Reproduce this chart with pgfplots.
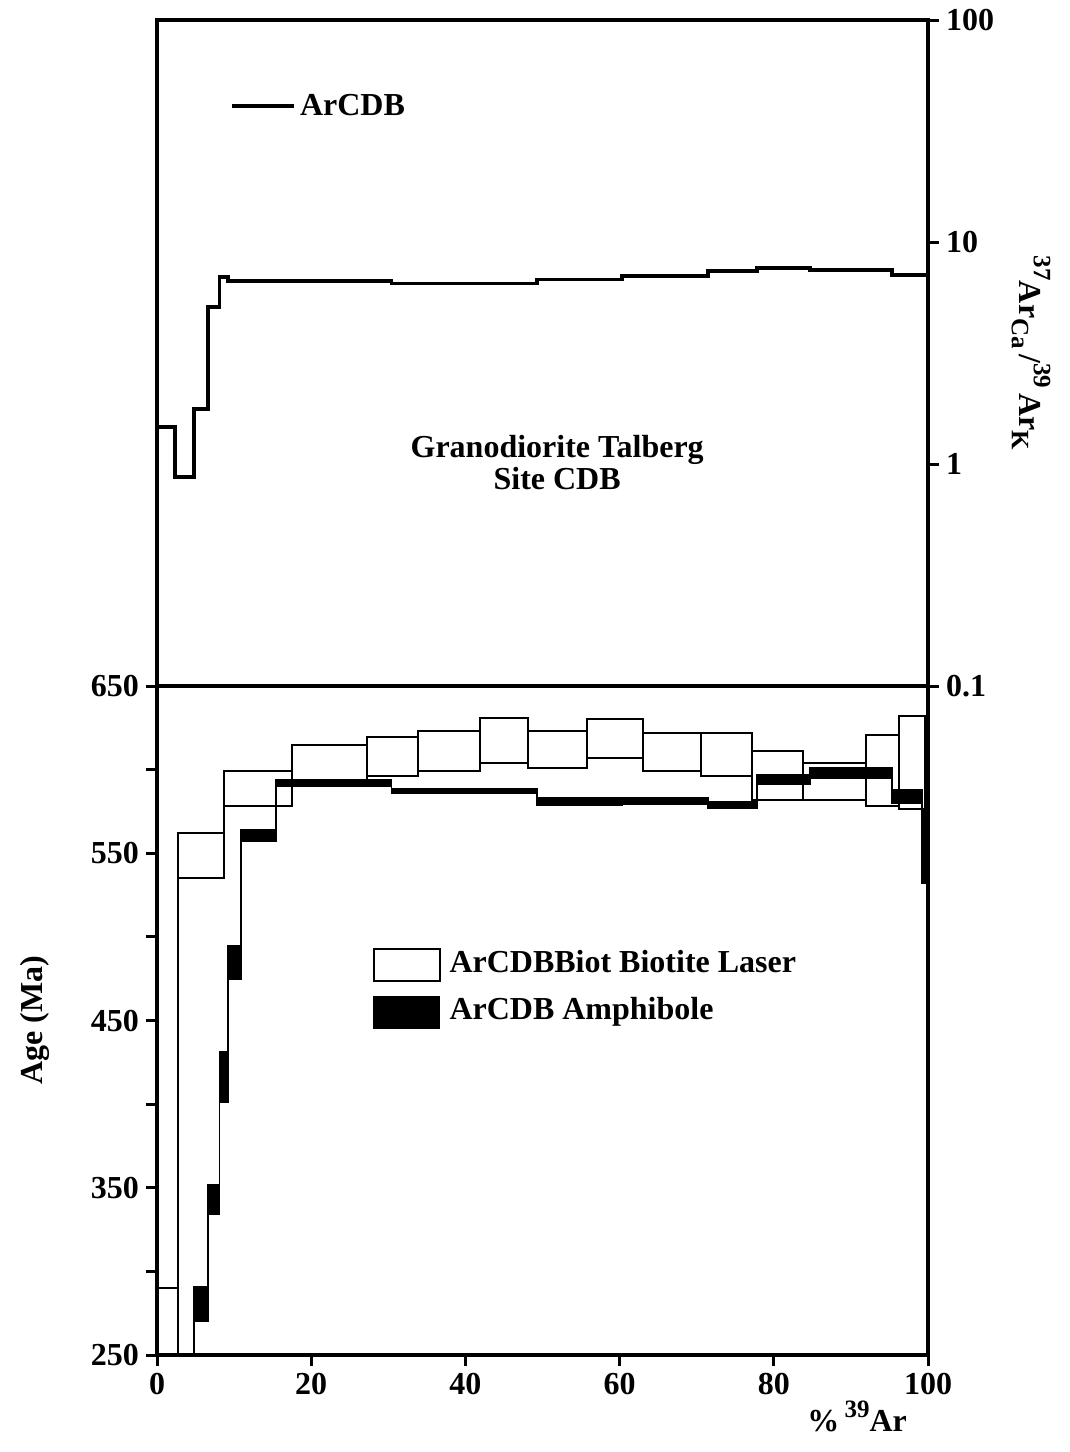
\documentclass[border=0pt]{standalone}
\usepackage{pgfplots}
\pgfplotsset{compat=1.18}
\usepackage{fontspec}
\setmainfont{Liberation Serif}
\newcommand{\bigf}{\bfseries\fontsize{16}{16}\selectfont}
\newcommand{\sups}[1]{\raisebox{7pt}{\fontsize{12.5}{12.5}\selectfont #1}}
\newcommand{\subs}[1]{\raisebox{-4pt}{\fontsize{12.5}{12.5}\selectfont #1}}
\begin{document}
\begin{tikzpicture}
\path[use as bounding box] (0,0) rectangle (535pt,-726pt);
\pgfplotsset{
  every axis/.append style={
    scale only axis, width=385.5pt,
    xmin=0, xmax=100,
    axis line style={line width=1.6pt},
    tick style={line width=1.5pt, black},
    major tick length=5.5pt, minor tick length=5.5pt,
    tick align=outside,
    tick label style={font=\bigf},
    label style={font=\bigf},
    /pgf/number format/assume math mode=true,
  }
}
% ---------------- bottom: age spectra ----------------
\begin{axis}[at={(78.5pt,-677.5pt)}, anchor=south west, height=334.5pt,
  ymin=250, ymax=650,
  xtick={0,20,40,60,80,100}, xtick pos=lower,
  ytick={250,350,450,550,650}, minor ytick={300,400,500,600}, ytick pos=left,
  unbounded coords=jump,
  xlabel={\%\,\sups{39}Ar},
  xlabel style={at={(axis description cs:0.908,-0.115)}, anchor=base},
  ylabel={Age (Ma)},
  ylabel style={at={(axis description cs:-0.149,0.5)}, anchor=base},
  legend style={at={(0.279,0.6185)}, anchor=north west, draw=none, fill=none,
    font=\bigf, inner sep=0pt,
    nodes={inner sep=4.5pt, text height=11pt, text depth=3.5pt}, row sep=0pt},
  legend cell align=left,
]
% Biotite laser boxes (open)
\addplot[black, line width=1pt,
  legend image code/.code={\draw[line width=1pt, black] (0pt,-8pt) rectangle (33pt,8pt);}]
coordinates {
(0,200) (0,290) (2.7,290) (2.7,200) (0,200) (0,nan)
(2.7,535) (2.7,562) (8.7,562) (8.7,535) (2.7,535) (2.7,nan)
(8.7,578) (8.7,599) (17.5,599) (17.5,578) (8.7,578) (8.7,nan)
(17.5,594) (17.5,615) (27.3,615) (27.3,594) (17.5,594) (17.5,nan)
(27.3,596) (27.3,619.5) (33.9,619.5) (33.9,596) (27.3,596) (27.3,nan)
(33.9,599) (33.9,623) (41.9,623) (41.9,599) (33.9,599) (33.9,nan)
(41.9,604) (41.9,631) (48.1,631) (48.1,604) (41.9,604) (41.9,nan)
(48.1,601) (48.1,623) (55.8,623) (55.8,601) (48.1,601) (48.1,nan)
(55.8,607) (55.8,630) (63.0,630) (63.0,607) (55.8,607) (55.8,nan)
(63.0,599) (63.0,622) (70.5,622) (70.5,599) (63.0,599) (63.0,nan)
(70.5,596) (70.5,622) (77.2,622) (77.2,596) (70.5,596) (70.5,nan)
(77.2,582) (77.2,611) (83.8,611) (83.8,582) (77.2,582) (77.2,nan)
(83.8,582) (83.8,604) (92.0,604) (92.0,582) (83.8,582) (83.8,nan)
(92.0,578) (92.0,621) (96.2,621) (96.2,578) (92.0,578) (92.0,nan)
(96.2,576.5) (96.2,632) (99.6,632) (99.6,576.5) (96.2,576.5)
};
\addlegendentry{ArCDBBiot Biotite Laser}
% Amphibole boxes (filled)
\addplot[black, fill=black, line width=0.6pt,
  legend image code/.code={\fill[black] (0pt,-8pt) rectangle (33pt,8pt);}]
coordinates {
(0,190) (0,200) (4.8,200) (4.8,190) (0,190) (0,nan)
(4.8,270) (4.8,290.8) (6.6,290.8) (6.6,270) (4.8,270) (4.8,nan)
(6.6,334) (6.6,352) (8.1,352) (8.1,334) (6.6,334) (6.6,nan)
(8.1,401) (8.1,431) (9.2,431) (9.2,401) (8.1,401) (8.1,nan)
(9.2,475) (9.2,494.5) (10.9,494.5) (10.9,475) (9.2,475) (9.2,nan)
(10.9,557) (10.9,564) (15.4,564) (15.4,557) (10.9,557) (10.9,nan)
(15.4,590) (15.4,594) (30.4,594) (30.4,590) (15.4,590) (15.4,nan)
(30.4,586) (30.4,588.5) (49.3,588.5) (49.3,586) (30.4,586) (30.4,nan)
(49.3,579) (49.3,583) (60.3,583) (60.3,579) (49.3,579) (49.3,nan)
(60.3,579.5) (60.3,583) (71.5,583) (71.5,579.5) (60.3,579.5) (60.3,nan)
(71.5,577) (71.5,581) (77.8,581) (77.8,577) (71.5,577) (71.5,nan)
(77.8,591) (77.8,597) (84.7,597) (84.7,591) (77.8,591) (77.8,nan)
(84.7,595) (84.7,601) (95.3,601) (95.3,595) (84.7,595) (84.7,nan)
(95.3,580) (95.3,588) (99.2,588) (99.2,580) (95.3,580) (95.3,nan)
(99.2,532) (99.2,576) (100,576) (100,532) (99.2,532)
};
\addlegendentry{ArCDB Amphibole}
% connecting steps, biotite
\addplot[black, line width=1pt, const plot mark left, forget plot] coordinates {
(0,290) (2.7,562) (8.7,599) (17.5,615) (27.3,619.5) (33.9,623) (41.9,631) (48.1,623)
(55.8,630) (63.0,622) (70.5,622) (77.2,611) (83.8,604) (92.0,621) (96.2,632) (99.6,632)};
\addplot[black, line width=1pt, const plot mark left, forget plot] coordinates {
(0,200) (2.7,535) (8.7,578) (17.5,594) (27.3,596) (33.9,599) (41.9,604) (48.1,601)
(55.8,607) (63.0,599) (70.5,596) (77.2,582) (83.8,582) (92.0,578) (96.2,576.5) (99.6,576.5)};
% connecting steps, amphibole
\addplot[black, line width=0.8pt, const plot mark left, forget plot] coordinates {
(0,200) (4.8,290.8) (6.6,352) (8.1,431) (9.2,494.5) (10.9,564) (15.4,594) (30.4,588.5)
(49.3,583) (60.3,583) (71.5,581) (77.8,597) (84.7,601) (95.3,588) (99.2,576) (100,576)};
\addplot[black, line width=0.8pt, const plot mark left, forget plot] coordinates {
(0,190) (4.8,270) (6.6,334) (8.1,401) (9.2,475) (10.9,557) (15.4,590) (30.4,586)
(49.3,579) (60.3,579.5) (71.5,577) (77.8,591) (84.7,595) (95.3,580) (99.2,532) (100,532)};
\end{axis}
% ---------------- top: Ca/K ----------------
\begin{axis}[at={(78.5pt,-343pt)}, anchor=south west, height=333pt,
  ymode=log, ymin=0.1, ymax=100,
  xtick=\empty,
  ytick={0.1,1,10,100},
  yticklabels={\textbf{0.1},\textbf{1},\textbf{10},\textbf{100}},
  yminorticks=false, ytick pos=right, yticklabel pos=right,
  ylabel={\sups{37}Ar\subs{Ca}\,/\sups{39}\,Ar\subs{K}},
  ylabel style={at={(axis description cs:1.119,0.5)}, anchor=base, rotate=180},
  legend style={at={(0.0947,0.871)}, anchor=west, draw=none, fill=none,
    font=\bigf, inner sep=0pt},
]
\addplot[black, line width=1.8pt, const plot mark left,
  legend image code/.code={\draw[line width=1.8pt] (0pt,0pt) -- (31pt,0pt);}]
coordinates {
(0,1.47) (2.3,0.874) (4.8,1.77) (6.6,5.1) (8.1,6.96) (9.2,6.67) (30.4,6.5)
(49.3,6.79) (60.3,7.03) (71.5,7.42) (77.8,7.62) (84.7,7.48) (95.3,7.1) (100,7.1)};
\addlegendentry{ArCDB}
\node[align=center, font=\bigf] at (rel axis cs:0.519,0.336) {Granodiorite Talberg\\Site CDB};
\end{axis}
\end{tikzpicture}
\end{document}
